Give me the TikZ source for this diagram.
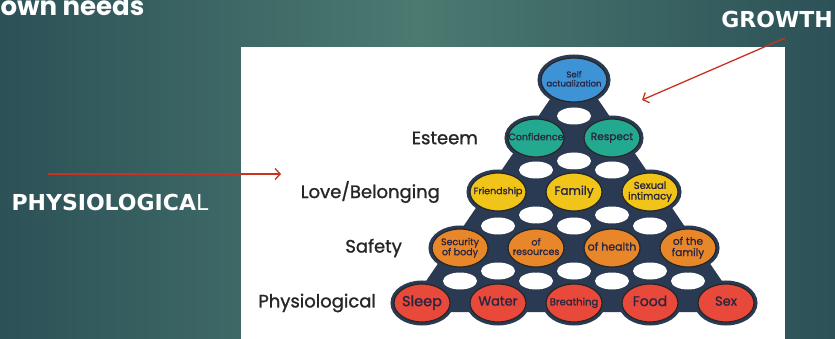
\documentclass[tikz,border=0pt]{standalone}
\usepackage{fontspec}
\usetikzlibrary{shapes.geometric,arrows.meta,positioning,calc,backgrounds}
\newfontfamily\needfont[FakeBold=1.2]{Poppins}
\newfontfamily\titlefont{Poppins}
\newfontfamily\slidefont{DejaVu Sans}
\definecolor{slidedark}{HTML}{2C5157}
\definecolor{slidelight}{HTML}{4B7A71}
\definecolor{navy}{HTML}{2A3A52}
\definecolor{needink}{HTML}{2A2540}
\definecolor{pointred}{HTML}{C83220}
\definecolor{selfblue}{HTML}{3D93D6}
\definecolor{esteemteal}{HTML}{22A98F}
\definecolor{loveyellow}{HTML}{F0C419}
\definecolor{safeorange}{HTML}{E8872A}
\definecolor{physred}{HTML}{E8493A}
\newcommand{\needtext}[2]{
  % text that does not widen its ellipse
  \makebox[0pt]{\fontsize{#1}{#1}\selectfont\begin{tabular}{@{}c@{}}#2\end{tabular}}}

\tikzset{
  need/.style={ellipse, draw=black!85, line width=1.2pt, inner sep=0pt,
    minimum width=56pt, minimum height=38pt, text=needink, font=\needfont,
    preaction={draw=navy, line width=7pt}},
  level/.style={font=\needfont\fontsize{18}{18}\selectfont, text=black!85},
  slidetext/.style={font=\slidefont\fontsize{22}{22}\selectfont\bfseries, text=white},
  pointer/.style={-{Straight Barb[length=5pt,width=11pt]}, draw=pointred, line width=1.3pt}
}

\begin{document}
\begin{tikzpicture}[x=1pt,y=-1pt]
\useasboundingbox (0,0) rectangle (835,339);

% needs, top to bottom
\node[need, fill=selfblue, minimum width=66pt, minimum height=44pt] (self) at (574,80) {\needtext{8.5}{Self\\actualization}};

\node[need, fill=esteemteal] (conf) at (536,138) {\needtext{9.5}{Confidence}};
\node[need, fill=esteemteal] (resp) at (612,138) {\needtext{10.5}{Respect}};

\node[need, fill=loveyellow] (friend) at (498,192) {\needtext{9.5}{Friendship}};
\node[need, fill=loveyellow] (family) at (574,192) {\needtext{12}{Family}};
\node[need, fill=loveyellow] (intim) at (650,192) {\needtext{10}{Sexual\\intimacy}};

\node[need, fill=safeorange] (body) at (460,248) {\needtext{9.5}{Security\\of body}};
\node[need, fill=safeorange] (resour) at (536,248) {\needtext{9.5}{of\\resources}};
\node[need, fill=safeorange] (health) at (612,248) {\needtext{11}{of health}};
\node[need, fill=safeorange] (famsafe) at (688,248) {\needtext{10.5}{of the\\family}};

\node[need, fill=physred] (sleep) at (422,303) {\needtext{14.5}{Sleep}};
\node[need, fill=physred] (water) at (498,303) {\needtext{13}{Water}};
\node[need, fill=physred] (breath) at (574,303) {\needtext{10}{Breathing}};
\node[need, fill=physred] (food) at (650,303) {\needtext{14}{Food}};
\node[need, fill=physred] (sex) at (726,303) {\needtext{13}{Sex}};

% level names
\node[level, left=26pt of conf] (esteem) {Esteem};
\node[level, left=26pt of friend] (love) {Love/Belonging};
\node[level, left=26pt of body] (safety) {Safety};
\node[level, left=14pt of sleep] (physio) {Physiological};

% slide texts
\node[slidetext, anchor=base west, font=\titlefont\fontsize{26}{26}\selectfont\bfseries] (title) at (-3,16) {own needs};
\node[slidetext] (growth) at (777,19) {GROWTH};
\node[slidetext, anchor=west] (physiotxt) at (8,202) {PHYSIOLOGICA\mdseries L};

\coordinate (growthtail) at (785,38);
\coordinate (growthtip) at (642,100);
\coordinate (physiotail) at (48,174);
\coordinate (physiotip) at (281,174);
\draw[pointer] (growthtail) -- (growthtip);
\draw[pointer] (physiotail) -- (physiotip);

\begin{scope}[on background layer]
\shade[left color=slidedark, right color=slidedark, middle color=slidelight] (0,0) rectangle (835,339);
\fill[white] (241,47) rectangle (785,345);
\filldraw[navy, line width=18pt, line join=round] (self.center) -- (sleep.center) -- (sex.center) -- cycle;
% holes under a need
\foreach \a/\b in {conf/resp, friend/family, family/intim, body/resour, resour/health,
    health/famsafe, sleep/water, water/breath, breath/food, food/sex}
  \fill[white] ($(\a)!0.5!(\b)+(0,-22)$) ellipse [x radius=17, y radius=8.5];
% holes between two needs
\foreach \a/\b in {conf/resp, friend/family, family/intim, body/resour, resour/health, health/famsafe}
  \fill[white] ($(\a)!0.5!(\b)+(0,23)$) ellipse [x radius=17, y radius=8.5];
\end{scope}
\end{tikzpicture}
\end{document}
